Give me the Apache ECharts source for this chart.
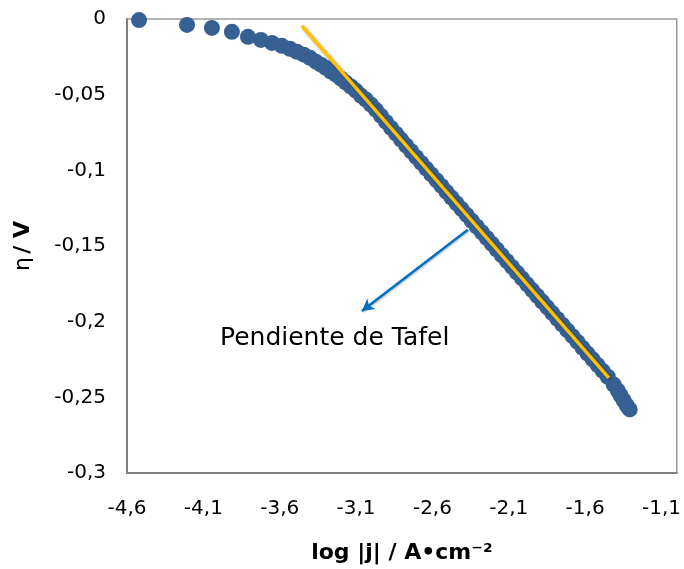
<!DOCTYPE html>
<html>
<head>
<meta charset="utf-8">
<script src="https://cdn.jsdelivr.net/npm/echarts@6/dist/echarts.min.js"></script>
<style>
  html, body { margin: 0; padding: 0; background: #fff; }
  #main { width: 684px; height: 569px; }
</style>
</head>
<body>
<div id="main"></div>
<script>
// log|j| (A/cm2) vs eta (V)
var logJ = [
  -4.521, -4.207, -4.044, -3.913, -3.808, -3.723, -3.651, -3.586, -3.533, -3.487,
  -3.442, -3.402, -3.363, -3.330, -3.298, -3.265, -3.232, -3.199, -3.167, -3.134,
  -3.101, -3.068, -3.036, -3.003, -2.970, -2.937, -2.904, -2.871, -2.838, -2.805,
  -2.772, -2.739, -2.706, -2.673, -2.640, -2.607, -2.574, -2.541, -2.508, -2.475,
  -2.442, -2.409, -2.376, -2.343, -2.310, -2.277, -2.244, -2.211, -2.178, -2.145,
  -2.112, -2.079, -2.046, -2.013, -1.980, -1.947, -1.914, -1.881, -1.848, -1.815,
  -1.782, -1.749, -1.716, -1.683, -1.650, -1.617, -1.584, -1.551, -1.518, -1.485,
  -1.452, -1.413, -1.386, -1.367, -1.347, -1.327, -1.308
];
var eta = [
  -0.0007, -0.0039, -0.0059, -0.0085, -0.0118, -0.0138, -0.0158, -0.0177, -0.0197, -0.0217,
  -0.0236, -0.0256, -0.0282, -0.0302, -0.0322, -0.0348, -0.0368, -0.0394, -0.0420, -0.0446,
  -0.0473, -0.0506, -0.0532, -0.0565, -0.0600, -0.0640, -0.0680, -0.0720, -0.0758, -0.0797,
  -0.0836, -0.0874, -0.0913, -0.0951, -0.0989, -0.1027, -0.1065, -0.1103, -0.1142, -0.1180,
  -0.1218, -0.1256, -0.1294, -0.1333, -0.1371, -0.1409, -0.1447, -0.1485, -0.1523, -0.1562,
  -0.1600, -0.1638, -0.1676, -0.1714, -0.1753, -0.1791, -0.1829, -0.1867, -0.1905, -0.1943,
  -0.1982, -0.2020, -0.2058, -0.2096, -0.2134, -0.2173, -0.2211, -0.2249, -0.2287, -0.2325,
  -0.2364, -0.2416, -0.2455, -0.2488, -0.2521, -0.2554, -0.2580
];

// Tafel fit line end points
var tafelLine = [[-3.455, -0.0046], [-1.445, -0.2372]];
// arrow from the line to the label
var arrowFrom = [-2.368, -0.1392];
var arrowTo = [-3.062, -0.1930];

var xTicks = [-4.6, -4.1, -3.6, -3.1, -2.6, -2.1, -1.6, -1.1];

var labelFont = 'DejaVu Sans';

function comma(v) {
  return String(+v.toFixed(2)).replace('.', ',');
}

var points = [];
for (var i = 0; i < logJ.length; i++) {
  points.push([logJ[i], eta[i]]);
}

var myChart = echarts.init(document.getElementById('main'));

var option = {
  backgroundColor: '#fff',
  animation: false,
  grid: {
    left: 127,
    right: 6,
    top: 19,
    bottom: 93,
    show: true,
    borderColor: '#9a9a9a',
    borderWidth: 1.5
  },
  xAxis: {
    type: 'value',
    min: -4.6,
    max: -1.0,
    name: 'log |j| / A\u2022cm\u207B\u00B2',
    nameLocation: 'middle',
    nameGap: 69,
    nameTextStyle: {
      fontFamily: labelFont,
      fontSize: 22,
      fontWeight: 'bold',
      color: '#000'
    },
    axisLine: { onZero: false, lineStyle: { color: '#7f7f7f', width: 2 } },
    axisTick: { show: false },
    splitLine: { show: false },
    axisLabel: {
      customValues: xTicks,
      margin: 26,
      fontFamily: labelFont,
      fontSize: 20,
      color: '#000',
      formatter: function (v) { return comma(v); }
    }
  },
  yAxis: {
    type: 'value',
    min: -0.3,
    max: 0,
    interval: 0.05,
    name: '{a|\u03B7} {b|/ V}',
    nameLocation: 'middle',
    nameRotate: 90,
    nameGap: 93,
    nameTextStyle: {
      rich: {
        a: { fontFamily: labelFont, fontSize: 22, color: '#000' },
        b: { fontFamily: labelFont, fontSize: 22, fontWeight: 'bold', color: '#000' }
      }
    },
    axisLine: { onZero: false, lineStyle: { color: '#7f7f7f', width: 2 } },
    axisTick: { show: false },
    splitLine: { show: false },
    axisLabel: {
      margin: 21,
      padding: [4, 0, 0, 0],
      fontFamily: labelFont,
      fontSize: 20,
      color: '#000',
      formatter: function (v) { return comma(v); }
    }
  },
  graphic: [{
    type: 'text',
    left: 220,
    top: 326,
    style: {
      text: 'Pendiente de Tafel',
      font: '25px "DejaVu Sans"',
      fill: '#000'
    }
  }],
  series: [
    {
      type: 'scatter',
      data: points,
      symbolSize: 16,
      itemStyle: { color: '#376092', opacity: 1 },
      z: 2
    },
    {
      type: 'line',
      data: tafelLine,
      symbol: 'none',
      lineStyle: {
        color: '#FFC000',
        width: 3.5,
        shadowColor: 'rgba(0,0,0,0.35)',
        shadowBlur: 3,
        shadowOffsetX: 1.5,
        shadowOffsetY: 1.5
      },
      z: 3,
      markLine: {
        silent: true,
        symbol: ['none', 'arrow'],
        symbolSize: [10, 12],
        label: { show: false },
        lineStyle: {
          color: '#0070C0',
          width: 2.5,
          type: 'solid',
          shadowColor: 'rgba(0,0,0,0.25)',
          shadowBlur: 2,
          shadowOffsetX: 1,
          shadowOffsetY: 1
        },
        data: [[{ coord: arrowFrom }, { coord: arrowTo }]]
      }
    }
  ]
};

myChart.setOption(option);
</script>
</body>
</html>
